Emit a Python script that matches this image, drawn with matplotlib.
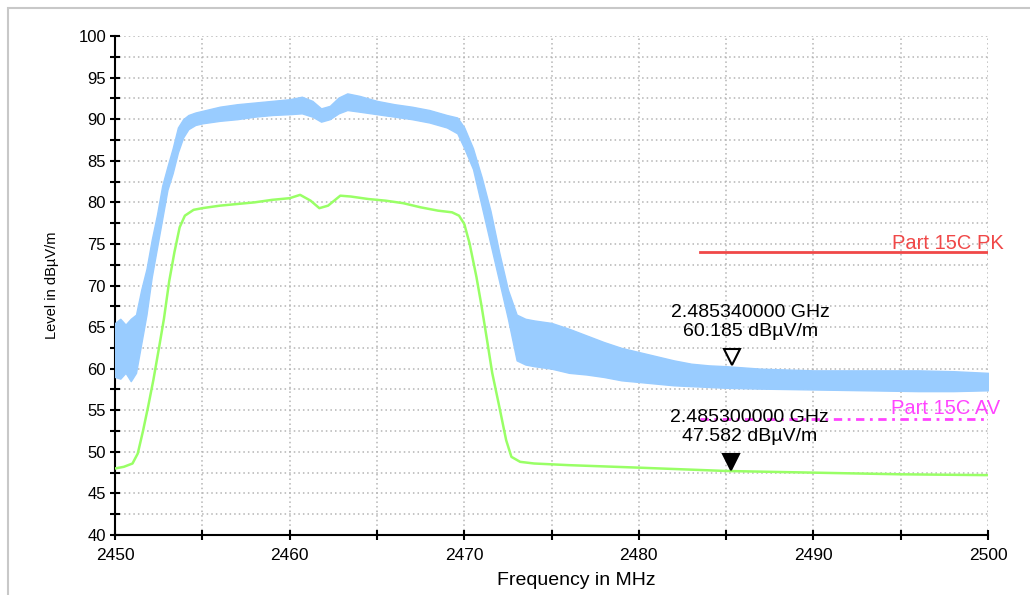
import matplotlib
matplotlib.use("Agg")
import matplotlib.pyplot as plt
from matplotlib.ticker import MultipleLocator
from matplotlib.patches import Rectangle
import matplotlib.transforms as mtransforms

# peak trace (noisy) read as lower / upper envelope
pk_freq = [2450.0, 2450.3, 2450.6, 2450.9, 2451.2, 2451.5, 2451.8, 2452.1, 2452.4, 2452.7,
           2453.0, 2453.3, 2453.6, 2453.9, 2454.2, 2454.6, 2455.0, 2456.0, 2457.0, 2458.0,
           2459.0, 2460.0, 2460.7, 2461.3, 2461.8, 2462.3, 2462.8, 2463.3, 2464.0, 2465.0,
           2466.0, 2467.0, 2468.0, 2469.0, 2469.6, 2470.0, 2470.5, 2471.0, 2471.5, 2472.0,
           2472.5, 2473.0, 2473.5, 2474.0, 2475.0, 2476.0, 2477.0, 2478.0, 2479.0, 2480.0,
           2481.0, 2482.0, 2483.0, 2484.0, 2485.0, 2487.0, 2490.0, 2493.0, 2496.0, 2498.0,
           2500.0]
pk_low = [59.0, 58.8, 59.5, 58.5, 59.5, 63.0, 66.5, 71.0, 74.5, 78.0,
          81.5, 83.5, 86.0, 87.8, 88.8, 89.3, 89.5, 89.8, 90.0, 90.3,
          90.5, 90.6, 90.7, 90.3, 89.7, 90.0, 90.7, 91.1, 90.9, 90.6,
          90.3, 90.0, 89.6, 89.0, 88.3, 86.5, 84.0, 79.5, 75.0, 70.5,
          66.0, 61.0, 60.5, 60.3, 60.0, 59.5, 59.3, 59.0, 58.6, 58.4,
          58.2, 58.0, 57.9, 57.8, 57.7, 57.6, 57.5, 57.4, 57.3, 57.3,
          57.4]
pk_high = [65.5, 66.0, 65.3, 66.0, 66.5, 69.5, 72.0, 75.5, 78.5, 82.0,
           84.3, 86.5, 89.0, 90.0, 90.5, 90.8, 91.0, 91.5, 91.8, 92.0,
           92.2, 92.4, 92.7, 92.2, 91.3, 91.6, 92.6, 93.1, 92.8, 92.2,
           91.8, 91.5, 91.1, 90.5, 90.2, 89.0, 86.5, 83.0, 79.0, 74.0,
           69.5, 66.5, 66.0, 65.8, 65.5, 64.8, 64.0, 63.2, 62.5, 62.0,
           61.5, 61.0, 60.6, 60.4, 60.3, 60.0, 59.8, 59.8, 59.8, 59.7,
           59.5]

# average trace
av_freq = [2450.0, 2450.5, 2451.0, 2451.3, 2451.6, 2451.9, 2452.2, 2452.5, 2452.8, 2453.1,
           2453.4, 2453.7, 2454.0, 2454.5, 2455.0, 2456.0, 2457.0, 2458.0, 2459.0, 2460.0,
           2460.6, 2461.2, 2461.7, 2462.2, 2462.9, 2463.5, 2464.5, 2465.5, 2466.5, 2467.5,
           2468.5, 2469.3, 2469.7, 2470.0, 2470.3, 2470.7, 2471.0, 2471.3, 2471.6, 2472.0,
           2472.4, 2472.7, 2473.2, 2474.0, 2476.0, 2480.0, 2485.0, 2490.0, 2495.0, 2500.0]
av_level = [48.0, 48.2, 48.6, 49.8, 52.5, 55.5, 58.7, 62.3, 66.0, 70.5,
            74.0, 77.0, 78.4, 79.1, 79.3, 79.6, 79.8, 80.0, 80.3, 80.5,
            80.9, 80.2, 79.3, 79.6, 80.8, 80.7, 80.4, 80.2, 79.9, 79.4,
            79.0, 78.8, 78.4, 77.4, 75.1, 71.0, 67.4, 63.5, 59.5, 55.5,
            51.4, 49.4, 48.8, 48.6, 48.4, 48.1, 47.7, 47.5, 47.3, 47.2]

# limit lines
limit_freq = [2483.5, 2500.0]
limit_pk = 74.0
limit_av = 54.0

# markers
mk_freq = [2485.34, 2485.30]
mk_level = [60.185, 47.582]

plt.rcParams['font.family'] = ['Liberation Sans', 'DejaVu Sans']

fig = plt.figure(figsize=(10.3, 5.95), dpi=100)
ax = fig.add_axes([0.1117, 0.1008, 0.8476, 0.8387])

# light frame around the picture
fig.add_artist(Rectangle((8 / 1030, -0.1), 1.2, 1.1 - 8 / 595, transform=fig.transFigure,
                         fill=False, ec='#c8c8c8', lw=1.5))

ax.fill_between(pk_freq, pk_low, pk_high, color='#99ccff', lw=1.0, edgecolor='#99ccff', zorder=3)
ax.plot(av_freq, av_level, color='#99ff66', lw=1.8, zorder=4)

ax.plot(limit_freq, [limit_pk, limit_pk], color='#f04848', lw=2, zorder=5)
ax.plot(limit_freq, [limit_av, limit_av], color='#ff44ff', lw=2, ls=(0, (3, 2, 1, 2)), zorder=5)
ax.annotate('Part 15C PK', xy=(2500, limit_pk), xytext=(-40, 9), textcoords='offset pixels',
            ha='center', va='center', color='#f04848', fontsize=14.5, annotation_clip=False)
ax.annotate('Part 15C AV', xy=(2500, limit_av), xytext=(-43, 10), textcoords='offset pixels',
            ha='center', va='center', color='#ff44ff', fontsize=14.5, annotation_clip=False)

# markers sit just above the trace
up = mtransforms.offset_copy(ax.transData, fig=fig, y=10, units='dots')
ax.plot(mk_freq[0], mk_level[0], marker='v', ms=11, mfc='white', mec='black', mew=1.5,
        transform=up, zorder=6)
ax.plot(mk_freq[1], mk_level[1], marker='v', ms=11, mfc='black', mec='black', mew=1.5,
        transform=up, zorder=6)
for f, lvl in zip(mk_freq, mk_level):
    ax.annotate('%.9f GHz\n%.3f dBµV/m' % (f / 1000, lvl), xy=(f, lvl), xytext=(18, 45),
                textcoords='offset pixels', ha='center', va='center', fontsize=14,
                linespacing=1.1, zorder=7)

ax.set_xlim(2450, 2500)
ax.set_ylim(40, 100)
ax.xaxis.set_major_locator(MultipleLocator(10))
ax.xaxis.set_minor_locator(MultipleLocator(5))
ax.yaxis.set_major_locator(MultipleLocator(5))
ax.yaxis.set_minor_locator(MultipleLocator(2.5))
ax.grid(which='both', color='#b4b4b4', ls=(0, (1, 2)), lw=1.1)
ax.set_axisbelow(True)

for s in ['top', 'right']:
    ax.spines[s].set_visible(False)
for s in ['left', 'bottom']:
    ax.spines[s].set_linewidth(1.5)
ax.tick_params(which='both', direction='inout', length=7, width=1.5)
ax.tick_params(axis='y', pad=3, labelsize=12)
ax.tick_params(axis='x', pad=6, labelsize=12.5)

ax.set_xlabel('Frequency in MHz', fontsize=14)
ax.xaxis.set_label_coords(0.528, -0.074)
ax.set_ylabel('Level in dBµV/m', fontsize=10.5, labelpad=14)

fig.savefig('out.png', dpi=100)
